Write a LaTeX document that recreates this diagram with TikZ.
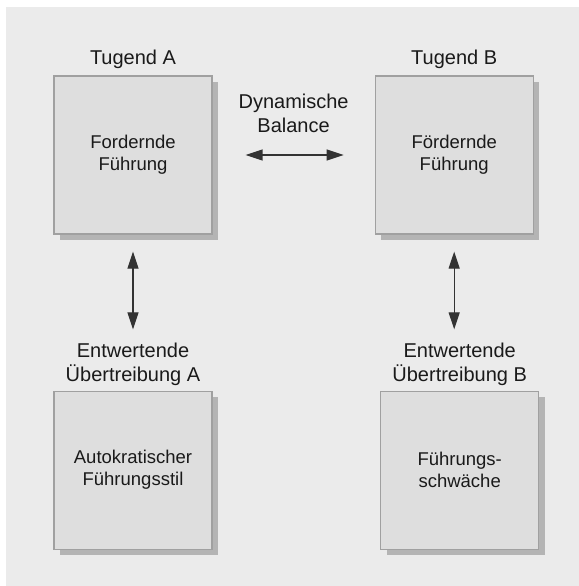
\documentclass[tikz,border=0pt]{standalone}
\usepackage{fontspec}
\setmainfont{Liberation Sans}
\usepackage{tikz}
\usetikzlibrary{arrows.meta,positioning,shadows}
\definecolor{bgfill}{HTML}{EBEBEB}
\definecolor{boxfill}{HTML}{DEDEDE}
\definecolor{boxline}{HTML}{A0A0A0}
\definecolor{shadowgray}{HTML}{B4B4B4}
\definecolor{arrowgray}{HTML}{333333}
\definecolor{textgray}{HTML}{1A1A1A}

\begin{document}
\begin{tikzpicture}[
  box/.style={rectangle, draw=boxline, line width=0.6pt, fill=boxfill,
              minimum width=79pt, minimum height=79pt, align=center,
              font=\fontsize{9.25}{11}\selectfont, text=textgray,
              drop shadow={shadow xshift=3pt, shadow yshift=-3pt,
                           fill=shadowgray, opacity=1}},
  lab/.style={inner sep=0pt, align=center,
              font=\fontsize{10}{12}\selectfont, text=textgray},
  arr/.style={{Triangle[length=8.5pt,width=5.5pt]}-{Triangle[length=8.5pt,width=5.5pt]},
              line width=0.6pt, draw=arrowgray, fill=arrowgray}
]
\path[fill=bgfill] (3pt,-3.5pt) rectangle (289.5pt,-293pt);
\useasboundingbox (0,0) rectangle (289.5pt,-293pt);

\node[box] (fordA) at (66.5pt,-77.5pt) {Fordernde\\Führung};
\node[box, right=81pt of fordA] (fordB) {Fördernde\\Führung};
\node[box, below=78pt of fordA] (autok) {Autokratischer\\Führungsstil};
\node[box, below=78pt of fordB, xshift=2.75pt] (schwach) {Führungs-\\schwäche};

\node[lab, above=3pt of fordA] (tugA) {Tugend A};
\node[lab, above=3pt of fordB] (tugB) {Tugend B};
\node[lab, above=2.4pt of autok] (uebA) {Entwertende\\Übertreibung A};
\node[lab, above=2.4pt of schwach] (uebB) {Entwertende\\Übertreibung B};

\draw[arr, shorten <=16.5pt, shorten >=15.5pt] (fordA) --
  node[lab, above=11pt] (balance) {Dynamische\\Balance} (fordB);
\draw[arr, shorten <=8.5pt, shorten >=6.5pt] (fordA.south) -- (fordA.south |- uebA.north);
\draw[arr, shorten <=8.5pt, shorten >=6.5pt] (fordB.south) -- (fordB.south |- uebB.north);
\end{tikzpicture}
\end{document}
